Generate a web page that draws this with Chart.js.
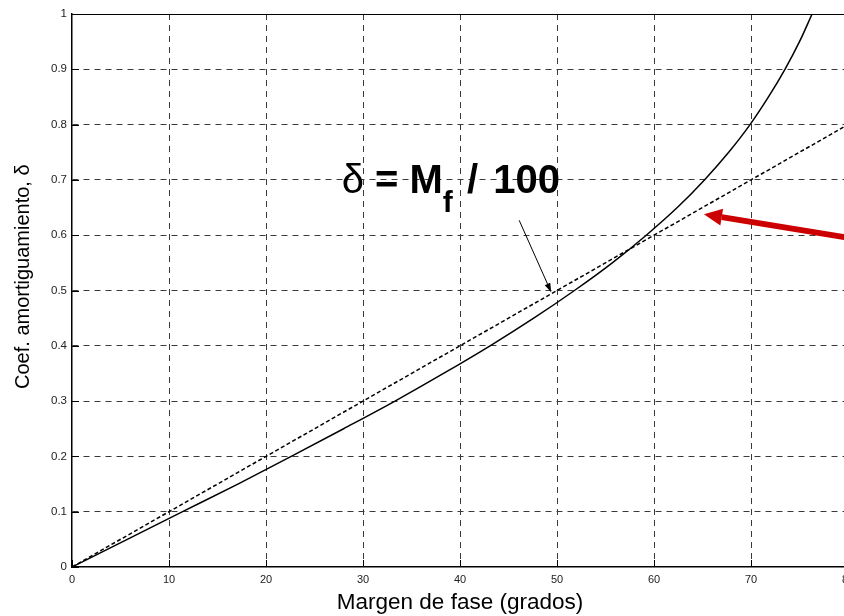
<!DOCTYPE html>
<html>
<head>
<meta charset="utf-8">
<script src="https://cdn.jsdelivr.net/npm/chart.js@4"></script>
<style>
  html, body { margin: 0; padding: 0; background: #fff; overflow: hidden; }
  #wrap { width: 844px; height: 616px; overflow: hidden; }
  canvas { display: block; }
</style>
</head>
<body>
<div id="wrap"><canvas id="chart" width="870" height="616"></canvas></div>
<script>
// damping ratio vs phase margin
var phaseMargin = [0, 5.7, 11.4, 17.1, 22.6, 28.0, 33.3, 38.3, 43.1, 47.6, 51.8, 55.7, 59.2, 62.4, 65.2, 67.7, 69.9, 71.8, 73.5, 75.0, 76.3];
var damping = [0, 0.05, 0.1, 0.15, 0.2, 0.25, 0.3, 0.35, 0.4, 0.45, 0.5, 0.55, 0.6, 0.65, 0.7, 0.75, 0.8, 0.85, 0.9, 0.95, 1];

// approximation delta = Mf / 100
var approxX = [0, 80];
var approxY = [0, 0.8];

var xTicks = [0, 10, 20, 30, 40, 50, 60, 70, 80];
var yTicks = [0, 0.1, 0.2, 0.3, 0.4, 0.5, 0.6, 0.7, 0.8, 0.9, 1];

var yTitle = "Coef. amortiguamiento, \u03b4";
var xTitle = "Margen de fase (grados)";

// annotation anchors in data units
var labelAt = { x: 27.8, y: 0.676 };
var thinArrow = { from: { x: 46.1, y: 0.627 }, to: { x: 49.4, y: 0.497 } };
var redArrow = { from: { x: 81.2, y: 0.592 }, to: { x: 65.15, y: 0.638 } };

var FAM = '"Liberation Sans", Arial, Helvetica, sans-serif';
Chart.defaults.font.family = FAM;

function toPoints(xs, ys) {
  return xs.map(function (v, i) { return { x: v, y: ys[i] }; });
}

function drawArrow(ctx, x1, y1, x2, y2, headLen, headHalf, lineW, color) {
  var ang = Math.atan2(y2 - y1, x2 - x1);
  var bx = x2 - headLen * Math.cos(ang);
  var by = y2 - headLen * Math.sin(ang);
  ctx.strokeStyle = color;
  ctx.fillStyle = color;
  ctx.lineWidth = lineW;
  ctx.setLineDash([]);
  ctx.beginPath();
  ctx.moveTo(x1, y1);
  ctx.lineTo(bx, by);
  ctx.stroke();
  ctx.beginPath();
  ctx.moveTo(x2, y2);
  ctx.lineTo(bx + headHalf * Math.sin(ang), by - headHalf * Math.cos(ang));
  ctx.lineTo(bx - headHalf * Math.sin(ang), by + headHalf * Math.cos(ang));
  ctx.closePath();
  ctx.fill();
}

var overlay = {
  id: "overlay",
  afterDatasetsDraw: function (chart) {
    var ctx = chart.ctx;
    var a = chart.chartArea;
    var x = chart.scales.x;
    var y = chart.scales.y;
    ctx.save();

    // top frame line
    ctx.strokeStyle = "#000";
    ctx.lineWidth = 1;
    ctx.beginPath();
    ctx.moveTo(a.left, a.top + 0.5);
    ctx.lineTo(a.right, a.top + 0.5);
    ctx.stroke();

    // inward tick marks
    ctx.beginPath();
    xTicks.forEach(function (v) {
      var px = Math.round(x.getPixelForValue(v)) + 0.5;
      ctx.moveTo(px, a.bottom);
      ctx.lineTo(px, a.bottom - 7);
    });
    yTicks.forEach(function (v) {
      var py = Math.round(y.getPixelForValue(v)) + 0.5;
      ctx.moveTo(a.left, py);
      ctx.lineTo(a.left + 7, py);
    });
    ctx.stroke();

    // y axis title (sits a little above the axis middle in the original)
    ctx.save();
    ctx.translate(23, y.getPixelForValue(0.525));
    ctx.rotate(-Math.PI / 2);
    ctx.font = "20px " + FAM;
    ctx.fillStyle = "#000";
    ctx.textAlign = "center";
    ctx.textBaseline = "middle";
    ctx.fillText(yTitle, 0, 0);
    ctx.restore();

    // label  δ = Mf / 100
    var tx = x.getPixelForValue(labelAt.x);
    var ty = y.getPixelForValue(labelAt.y);
    ctx.fillStyle = "#000";
    ctx.textBaseline = "alphabetic";
    ctx.textAlign = "left";
    ctx.font = "40px " + FAM;
    ctx.fillText("\u03b4", tx, ty);
    tx += ctx.measureText("\u03b4").width;
    ctx.font = "bold 40px " + FAM;
    ctx.fillText(" = M", tx, ty);
    tx += ctx.measureText(" = M").width;
    ctx.font = "bold 30px " + FAM;
    ctx.fillText("f", tx, ty + 19);
    tx += ctx.measureText("f").width + 3;
    ctx.font = "bold 40px " + FAM;
    ctx.fillText(" /", tx, ty);
    tx += ctx.measureText(" /").width + 4;
    ctx.fillText(" 100", tx, ty);

    // thin black pointer
    drawArrow(ctx,
      x.getPixelForValue(thinArrow.from.x), y.getPixelForValue(thinArrow.from.y),
      x.getPixelForValue(thinArrow.to.x), y.getPixelForValue(thinArrow.to.y),
      9, 3, 1, "#000");

    // thick red pointer
    drawArrow(ctx,
      x.getPixelForValue(redArrow.from.x), y.getPixelForValue(redArrow.from.y),
      x.getPixelForValue(redArrow.to.x), y.getPixelForValue(redArrow.to.y),
      18, 8.5, 6, "#cc0000");

    ctx.restore();
  }
};

var ctx = document.getElementById("chart").getContext("2d");
var chart = new Chart(ctx, {
  type: "scatter",
  data: {
    datasets: [
      {
        label: "Coef. amortiguamiento",
        data: toPoints(phaseMargin, damping),
        showLine: true,
        borderColor: "#000",
        borderWidth: 1.5,
        pointRadius: 0,
        cubicInterpolationMode: "monotone",
        fill: false,
      },
      {
        label: "Mf / 100",
        data: toPoints(approxX, approxY),
        showLine: true,
        borderColor: "#000",
        borderWidth: 1.5,
        borderDash: [4, 2.5],
        pointRadius: 0,
        fill: false,
      },
    ],
  },
  options: {
    responsive: false,
    animation: false,
    layout: { padding: { left: 0, right: 22, top: 14, bottom: 0 } },
    plugins: {
      legend: { display: false },
      tooltip: { enabled: false },
    },
    scales: {
      x: {
        type: "linear",
        min: 0,
        max: 80,
        afterBuildTicks: function (s) {
          s.ticks = xTicks.map(function (v) { return { value: v }; });
        },
        ticks: {
          color: "#222",
          font: { size: 11 },
          padding: 6,
          maxRotation: 0,
          autoSkip: false,
        },
        grid: {
          drawTicks: false,
          lineWidth: 1,
          color: function (c) {
            return c.tick && (c.tick.value === 0 || c.tick.value === 80) ? "rgba(0,0,0,0)" : "#3a3a3a";
          },
        },
        border: { display: true, color: "#000", width: 1.5, dash: [6, 5] },
        title: {
          display: true,
          text: xTitle,
          color: "#000",
          font: { size: 22.5, lineHeight: 1 },
          padding: { top: 0, bottom: 2 },
        },
        afterFit: function (s) {
          s.height = 49;
          s.paddingLeft = 0;
          s.paddingRight = 0;
        },
      },
      y: {
        type: "linear",
        min: 0,
        max: 1,
        afterBuildTicks: function (s) {
          s.ticks = yTicks.map(function (v) { return { value: v }; });
        },
        ticks: {
          color: "#222",
          font: { size: 11.5 },
          padding: 5,
          autoSkip: false,
          callback: function (v) { return String(Number(v.toFixed(1))); },
        },
        grid: {
          drawTicks: false,
          lineWidth: 1,
          color: function (c) {
            return c.tick && (c.tick.value === 0 || c.tick.value === 1) ? "rgba(0,0,0,0)" : "#3a3a3a";
          },
        },
        border: { display: true, color: "#000", width: 1.5, dash: [6, 5] },
        title: { display: false },
        afterFit: function (s) {
          s.width = 72;
          s.paddingTop = 0;
          s.paddingBottom = 0;
        },
      },
    },
  },
  plugins: [overlay],
});
</script>
</body>
</html>
